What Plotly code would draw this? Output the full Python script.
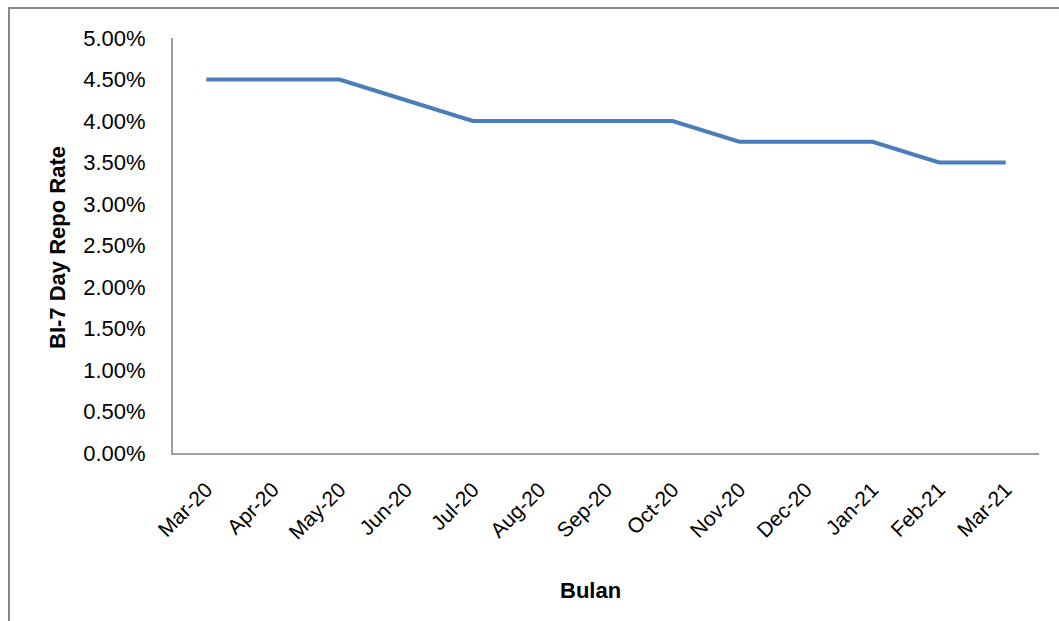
import plotly.graph_objects as go

months = ["Mar-20", "Apr-20", "May-20", "Jun-20", "Jul-20", "Aug-20", "Sep-20",
          "Oct-20", "Nov-20", "Dec-20", "Jan-21", "Feb-21", "Mar-21"]
repo_rate = [0.045, 0.045, 0.045, 0.0425, 0.04, 0.04, 0.04, 0.04,
             0.0375, 0.0375, 0.0375, 0.035, 0.035]
y_ticks = [0, 0.005, 0.01, 0.015, 0.02, 0.025, 0.03, 0.035, 0.04, 0.045, 0.05]

FONT = "Liberation Sans, Arial, sans-serif"

fig = go.Figure()
fig.add_trace(go.Scatter(
    x=months, y=repo_rate, mode="lines",
    line=dict(color="#4A7EBB", width=4),
    showlegend=False,
))

L, R, T, B = 173, 20, 38, 168
W, H = 1059, 621
pw, ph = W - L - R, H - T - B

def px(x):
    return (x - L) / pw

def py(y):
    return (H - B - y) / ph

fig.update_layout(
    width=W, height=H,
    margin=dict(l=L, r=R, t=T, b=B),
    paper_bgcolor="white", plot_bgcolor="white",
    font=dict(family=FONT, color="#000000", size=22),
    xaxis=dict(
        type="category", range=[-0.5, 12.5],
        showline=True, linecolor="#A0A0A0", linewidth=2,
        showgrid=False, ticks="", tickangle=-45,
        ticklabelstandoff=14,
        tickfont=dict(size=21), zeroline=False,
    ),
    yaxis=dict(
        range=[0, 0.05], tickvals=y_ticks, tickformat=".2%",
        showline=True, linecolor="#A0A0A0", linewidth=2,
        showgrid=False, ticks="", ticklabelstandoff=21,
        tickfont=dict(size=22), zeroline=False,
    ),
    shapes=[
        dict(type="line", xref="paper", yref="paper",
             x0=px(8), x1=px(1060), y0=py(8), y1=py(8),
             line=dict(color="#888888", width=2)),
        dict(type="line", xref="paper", yref="paper",
             x0=px(9), x1=px(9), y0=py(8), y1=py(625),
             line=dict(color="#888888", width=2)),
    ],
    annotations=[
        dict(text="<b>BI-7 Day Repo Rate</b>", xref="paper", yref="paper",
             x=px(57), y=py(248), textangle=-90, showarrow=False,
             font=dict(size=22), xanchor="center", yanchor="middle"),
        dict(text="<b>Bulan</b>", xref="paper", yref="paper",
             x=px(590), y=py(590), showarrow=False,
             font=dict(size=22), xanchor="center", yanchor="middle"),
    ],
)

fig.write_html("out.html")
